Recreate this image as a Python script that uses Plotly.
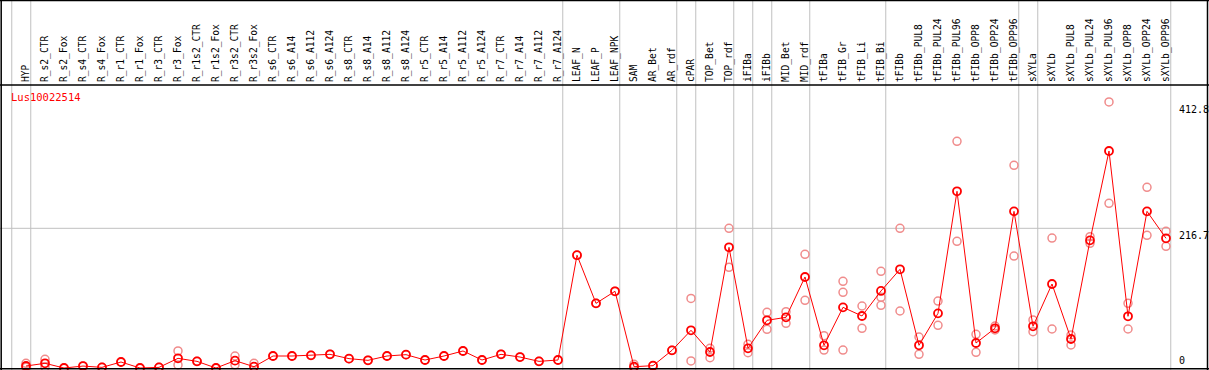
import plotly.graph_objects as go

categories = ["HYP", "R_s2_CTR", "R_s2_Fox", "R_s4_CTR", "R_s4_Fox", "R_r1_CTR", "R_r1_Fox",
              "R_r3_CTR", "R_r3_Fox", "R_r1s2_CTR", "R_r1s2_Fox", "R_r3s2_CTR", "R_r3s2_Fox",
              "R_s6_CTR", "R_s6_A14", "R_s6_A112", "R_s6_A124", "R_s8_CTR", "R_s8_A14",
              "R_s8_A112", "R_s8_A124", "R_r5_CTR", "R_r5_A14", "R_r5_A112", "R_r5_A124",
              "R_r7_CTR", "R_r7_A14", "R_r7_A112", "R_r7_A124", "LEAF_N", "LEAF_P", "LEAF_NPK",
              "SAM", "AR_Bet", "AR_rdf", "cPAR", "TOP_Bet", "TOP_rdf", "iFIBa", "iFIBb",
              "MID_Bet", "MID_rdf", "tFIBa", "tFIB_Gr", "tFIB_Li", "tFIB_Bi", "tFIBb",
              "tFIBb_PUL8", "tFIBb_PUL24", "tFIBb_PUL96", "tFIBb_OPP8", "tFIBb_OPP24",
              "tFIBb_OPP96", "sXYLa", "sXYLb", "sXYLb_PUL8", "sXYLb_PUL24", "sXYLb_PUL96",
              "sXYLb_OPP8", "sXYLb_OPP24", "sXYLb_OPP96"]

mean_values = [3.1, 7.3, 0.0, 3.0, 1.0, 9.3, 0.0, 1.0, 15.0, 10.3, 0.0, 11.4, 2.0,
               18.6, 18.6, 19.6, 21.2, 14.5, 11.9, 18.6, 20.7, 12.4, 18.6, 26.4, 12.4,
               21.2, 17.0, 10.3, 12.4, 175.0, 100.3, 119.0,
               2.0, 3.6, 27.4, 58.5, 24.8, 187.2, 30.5, 74.0,
               78.6, 141.2, 35.2, 94.1, 80.7, 119.5, 153.1,
               35.2, 84.8, 274.1, 38.8, 61.6,
               243.0, 64.7, 130.3, 45.0, 198.0, 336.6,
               80.2, 243.0, 201.2]

replicates = [[7.3, 1.0], [13.5, 1.5], [0.0], [3.0], [1.0], [9.3], [0.0], [1.0],
              [26.4, 4.7], [10.3], [0.0], [18.6, 5.0], [7.3],
              [18.6], [18.6], [19.6], [21.2], [14.5], [11.9], [18.6], [20.7], [12.4],
              [18.6], [26.4], [12.4], [21.2], [17.0], [10.3], [12.4], [175.0], [100.3],
              [119.0], [5.7, 0.5], [3.6], [27.4], [108.0, 10.9], [30.5, 16.0],
              [216.7, 156.2], [36.8, 23.8], [86.4, 60.0], [87.3, 69.3], [176.4, 105.0],
              [50.1, 27.9], [134.5, 117.4, 27.9], [96.2, 61.6], [150.0, 109.7, 97.3],
              [216.7, 88.4], [48.1, 21.2], [103.9, 66.2], [351.6, 196.5], [52.3, 24.3],
              [65.1, 59.0], [314.4, 173.7], [74.5, 56.3], [201.6, 60.5], [51.2, 35.7],
              [203.7, 193.4], [412.8, 255.5], [100.3, 60.5], [280.3, 205.8], [212.0, 188.8]]

gene_name = "Lus10022514"
axis_labels = [412.8, 216.7, 0]
separators = [-0.75, 0.25, 28.25, 31.25, 34.25, 35.25, 37.25, 38.25, 39.25, 41.25,
              45.25, 52.25, 53.25, 60.25]

W, H = 1209, 370
TOP = 85
x_range = [-26 / 19, -26 / 19 + W / 19]
y_range = [-3.1, 439.0]
idx = list(range(len(categories)))

rep_x, rep_y = [], []
for i, reps in enumerate(replicates):
    for v in reps:
        rep_x.append(i)
        rep_y.append(v)

fig = go.Figure()
fig.add_trace(go.Scatter(
    x=rep_x, y=rep_y, mode="markers",
    marker=dict(symbol="circle-open", size=8, color="rgba(240,140,140,1)",
                line=dict(width=1.5, color="rgba(240,140,140,1)")),
    hoverinfo="skip", showlegend=False))
fig.add_trace(go.Scatter(
    x=idx, y=mean_values, mode="lines+markers",
    line=dict(color="#ff0000", width=1),
    marker=dict(symbol="circle-open", size=8, color="#ff0000",
                line=dict(width=1.8, color="#ff0000")),
    showlegend=False))

shapes = []
top_paper = H / (H - TOP)
for s in separators:
    shapes.append(dict(type="line", xref="x", yref="paper", x0=s, x1=s,
                       y0=0, y1=top_paper, line=dict(color="#c0c0c0", width=1),
                       layer="below"))
shapes.append(dict(type="line", xref="x", yref="y", x0=x_range[0], x1=60.25,
                   y0=216.7, y1=216.7, line=dict(color="#c0c0c0", width=1),
                   layer="below"))
black = dict(color="black", width=1.5)
shapes += [
    dict(type="line", xref="paper", yref="paper", x0=1.2 / W, x1=1.2 / W, y0=0, y1=top_paper, line=black),
    dict(type="line", xref="paper", yref="paper", x0=1207.5 / W, x1=1207.5 / W, y0=0, y1=top_paper, line=black),
    dict(type="line", xref="paper", yref="paper", x0=0, x1=1, y0=top_paper - 0.5 / (H - TOP),
         y1=top_paper - 0.5 / (H - TOP), line=black),
    dict(type="line", xref="paper", yref="paper", x0=0, x1=1, y0=1, y1=1, line=black),
    dict(type="line", xref="paper", yref="paper", x0=0, x1=1, y0=1.2 / (H - TOP),
         y1=1.2 / (H - TOP), line=black),
]

mono = "DejaVu Sans Mono"
annotations = [dict(text=gene_name, xref="paper", yref="paper", x=9 / W, y=1,
                    xanchor="left", yanchor="top", yshift=-4, showarrow=False,
                    font=dict(family=mono, size=10.5, color="#ff0000"))]
for v in axis_labels:
    annotations.append(dict(text=str(v) if v else "0", xref="paper", yref="y",
                            x=1177 / W, y=v, xanchor="left",
                            yanchor="bottom" if v == 0 else "top",
                            showarrow=False, font=dict(family=mono, size=10, color="black")))

fig.update_layout(
    width=W, height=H,
    margin=dict(l=0, r=0, t=TOP, b=0),
    paper_bgcolor="white", plot_bgcolor="white",
    shapes=shapes, annotations=annotations,
    xaxis=dict(range=x_range, tickmode="array", tickvals=idx, ticktext=categories,
               side="top", tickangle=-90, showgrid=False, zeroline=False, showline=False,
               ticks="", tickfont=dict(family=mono, size=9.6, color="black"),
               ticklabelstandoff=2),
    yaxis=dict(range=y_range, showticklabels=False, showgrid=False, zeroline=False,
               showline=False),
)
fig.write_html("out.html", config={"displayModeBar": False},
               post_script="document.body.style.margin='0';document.body.style.overflow='hidden';")
